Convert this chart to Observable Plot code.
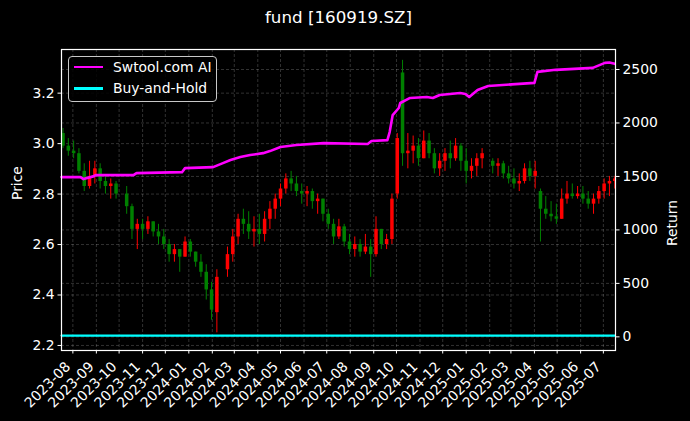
<!DOCTYPE html>
<html>
<head>
<meta charset="utf-8">
<script src="https://cdn.jsdelivr.net/npm/d3@7"></script>
<script src="https://cdn.jsdelivr.net/npm/@observablehq/plot@0.6"></script>
<style>
html,body{margin:0;padding:0;background:#000;}
body{width:690px;height:421px;position:relative;overflow:hidden;font-family:"DejaVu Sans",sans-serif;color:#fff;}
#title{position:absolute;left:0;top:7px;width:677px;text-align:center;font-size:16.7px;line-height:20px;white-space:nowrap;}
#chart{position:absolute;left:0;top:0;}
#legend{position:absolute;left:68px;top:56px;width:149px;height:46px;box-sizing:border-box;border:1px solid #c8c8c8;border-radius:4px;background:rgba(0,0,0,0.85);font-size:13.9px;}
#legend .sw{position:absolute;left:5px;width:29px;height:2.6px;}
#legend .tx{position:absolute;left:44px;line-height:16px;white-space:nowrap;}
</style>
</head>
<body>
<div id="chart"></div>
<div id="title">fund [160919.SZ]</div>
<div id="legend">
  <div class="sw" style="top:8.5px;background:#ff00ff"></div><div class="tx" style="top:1.5px">Swtool.com AI</div>
  <div class="sw" style="top:30px;background:#00ffff"></div><div class="tx" style="top:23px">Buy-and-Hold</div>
</div>
<script>
// ---- weekly candles (week starting Monday) ----
const weekStart = [
  "2023-07-17","2023-07-24","2023-07-31","2023-08-07","2023-08-14","2023-08-21","2023-08-28","2023-09-04","2023-09-11","2023-09-18",
  "2023-09-25","2023-10-09","2023-10-16","2023-10-23","2023-10-30","2023-11-06","2023-11-13","2023-11-20","2023-11-27","2023-12-04",
  "2023-12-11","2023-12-18","2023-12-25","2024-01-01","2024-01-08","2024-01-15","2024-01-22","2024-01-29","2024-02-05","2024-02-19",
  "2024-02-26","2024-03-04","2024-03-11","2024-03-18","2024-03-25","2024-04-01","2024-04-08","2024-04-15","2024-04-22","2024-04-29",
  "2024-05-06","2024-05-13","2024-05-20","2024-05-27","2024-06-03","2024-06-10","2024-06-17","2024-06-24","2024-07-01","2024-07-08",
  "2024-07-15","2024-07-22","2024-07-29","2024-08-05","2024-08-12","2024-08-19","2024-08-26","2024-09-02","2024-09-09","2024-09-16",
  "2024-09-23","2024-09-30","2024-10-07","2024-10-14","2024-10-21","2024-10-28","2024-11-04","2024-11-11","2024-11-18","2024-11-25",
  "2024-12-02","2024-12-09","2024-12-16","2024-12-23","2024-12-30","2025-01-06","2025-01-13","2025-01-20","2025-02-03","2025-02-10",
  "2025-02-17","2025-02-24","2025-03-03","2025-03-10","2025-03-17","2025-03-24","2025-03-31","2025-04-07","2025-04-14","2025-04-21",
  "2025-04-28","2025-05-05","2025-05-12","2025-05-19","2025-05-26","2025-06-02","2025-06-09","2025-06-16","2025-06-23","2025-06-30",
  "2025-07-07","2025-07-14"
];
const openP = [
  3.04,2.99,2.97,2.96,2.89,2.83,2.87,2.90,2.85,2.83,
  2.84,2.80,2.75,2.66,2.68,2.66,2.69,2.65,2.63,2.60,
  2.56,2.58,2.55,2.61,2.57,2.53,2.49,2.42,2.33,2.50,
  2.56,2.63,2.70,2.68,2.65,2.66,2.64,2.70,2.74,2.78,
  2.82,2.86,2.84,2.81,2.80,2.81,2.77,2.78,2.72,2.68,
  2.63,2.67,2.61,2.58,2.60,2.57,2.59,2.56,2.66,2.60,
  2.62,2.80,3.28,2.96,2.97,2.99,2.94,3.01,2.96,2.90,
  2.93,2.96,2.94,2.99,2.93,2.89,2.91,2.94,2.93,2.91,
  2.92,2.88,2.86,2.84,2.85,2.90,2.87,2.81,2.74,2.72,
  2.71,2.70,2.78,2.80,2.79,2.80,2.78,2.76,2.78,2.81,
  2.84,2.85
];
const highP = [
  3.06,3.02,3.01,2.98,2.92,2.93,2.93,2.92,2.87,2.86,
  2.85,2.83,2.76,2.70,2.70,2.71,2.69,2.68,2.66,2.62,
  2.60,2.58,2.63,2.62,2.57,2.56,2.52,2.45,2.50,2.59,
  2.66,2.72,2.74,2.73,2.71,2.72,2.73,2.77,2.80,2.84,
  2.88,2.89,2.87,2.84,2.83,2.82,2.80,2.78,2.74,2.70,
  2.70,2.68,2.64,2.63,2.62,2.64,2.62,2.71,2.66,2.64,
  2.80,3.04,3.33,3.04,3.03,3.02,3.05,3.04,2.98,2.96,
  2.98,3.01,3.02,3.00,2.98,2.94,2.96,2.98,2.94,2.94,
  2.93,2.91,2.90,2.88,2.92,2.93,2.93,2.82,2.79,2.77,
  2.76,2.82,2.85,2.84,2.83,2.83,2.81,2.80,2.83,2.86,
  2.87,2.87
];
const lowP = [
  2.98,2.95,2.94,2.88,2.81,2.82,2.84,2.82,2.80,2.78,
  2.78,2.72,2.62,2.58,2.62,2.64,2.63,2.60,2.58,2.53,
  2.53,2.49,2.55,2.55,2.51,2.47,2.38,2.30,2.25,2.47,
  2.53,2.60,2.64,2.62,2.59,2.60,2.61,2.66,2.70,2.75,
  2.80,2.81,2.79,2.76,2.75,2.74,2.72,2.69,2.66,2.60,
  2.62,2.59,2.56,2.55,2.55,2.56,2.47,2.55,2.58,2.58,
  2.60,2.78,2.91,2.90,2.92,2.91,2.94,2.94,2.88,2.87,
  2.89,2.90,2.93,2.89,2.84,2.86,2.87,2.90,2.88,2.87,
  2.86,2.84,2.82,2.81,2.84,2.85,2.82,2.61,2.70,2.69,
  2.68,2.70,2.76,2.78,2.78,2.76,2.74,2.72,2.76,2.78,
  2.79,2.82
];
const closeP = [
  2.99,2.97,2.96,2.89,2.83,2.87,2.90,2.85,2.83,2.84,
  2.80,2.75,2.66,2.68,2.66,2.69,2.65,2.63,2.60,2.56,
  2.58,2.55,2.61,2.57,2.53,2.49,2.42,2.34,2.47,2.56,
  2.63,2.70,2.68,2.65,2.66,2.64,2.70,2.74,2.78,2.82,
  2.86,2.84,2.81,2.80,2.81,2.77,2.78,2.72,2.68,2.63,
  2.67,2.61,2.58,2.60,2.57,2.59,2.56,2.66,2.60,2.62,
  2.78,3.02,2.96,2.97,2.99,2.94,3.01,2.96,2.90,2.93,
  2.96,2.94,2.99,2.93,2.89,2.91,2.94,2.96,2.91,2.92,
  2.88,2.86,2.84,2.85,2.90,2.87,2.89,2.74,2.72,2.71,
  2.70,2.78,2.80,2.79,2.80,2.78,2.76,2.78,2.81,2.84,
  2.85,2.86
];

// ---- strategy return (right axis) ----
const stratDates = [
  "2023-07-17","2023-08-11","2023-08-15","2023-08-29","2023-08-31","2023-10-20","2023-10-24","2023-12-23","2023-12-27","2024-02-02",
  "2024-02-15","2024-02-25","2024-03-09","2024-03-22","2024-04-08","2024-04-17","2024-05-01","2024-05-22","2024-06-27","2024-08-24",
  "2024-08-29","2024-09-19","2024-09-22","2024-09-26","2024-10-04","2024-10-06","2024-10-19","2024-11-10","2024-11-18","2024-11-27",
  "2024-12-24","2024-12-31","2025-01-05","2025-01-16","2025-01-30","2025-04-01","2025-04-05","2025-04-29","2025-06-17","2025-07-03",
  "2025-07-09","2025-07-16"
];
const stratReturn = [
  1494,1494,1475,1503,1512,1512,1531,1540,1578,1587,
  1625,1653,1681,1700,1718,1737,1775,1794,1812,1803,
  1831,1840,1915,2074,2140,2187,2234,2243,2234,2262,
  2280,2271,2243,2308,2346,2375,2478,2497,2515,2562,
  2565,2553
];
// ---- buy-and-hold return (right axis) ----
const bhDates = ["2023-07-17","2024-07-16","2025-07-16"];
const bhReturn = [12,12,12];

// ---- axis ticks ----
const monthTicks = ["2023-08","2023-09","2023-10","2023-11","2023-12","2024-01","2024-02","2024-03","2024-04","2024-05","2024-06","2024-07",
  "2024-08","2024-09","2024-10","2024-11","2024-12","2025-01","2025-02","2025-03","2025-04","2025-05","2025-06","2025-07"];
const priceTicks = [2.2,2.4,2.6,2.8,3.0,3.2];
const returnTicks = [0,500,1000,1500,2000,2500];

// ---- build ----
const parse = d3.utcParse("%Y-%m-%d");
const DAY = 864e5;
const candles = weekStart.map((w,i)=>({date:new Date(+parse(w)+2*DAY), open:openP[i], high:highP[i], low:lowP[i], close:closeP[i]}));
const mDate = m => parse(m+"-01");
const mt = monthTicks.map(mDate);
// right axis mapping: return -> price units
const P0 = 2.2341, K = (3.2937-2.2341)/2500;
const toP = r => P0 + r*K;
const fromP = p => Math.round((p-P0)/K);
const strat = stratDates.map((d,i)=>({date:parse(d), v:toP(stratReturn[i])}));
const bh = bhDates.map((d,i)=>({date:parse(d), v:toP(bhReturn[i])}));
const col = d => d.close >= d.open ? "#ff0000" : "#008000";
const gridStyle = {stroke:"#ffffff", strokeOpacity:0.28, strokeDasharray:"3,2", strokeWidth:0.7};

const chart = Plot.plot({
  width:690, height:421,
  marginTop:49, marginBottom:71, marginLeft:61, marginRight:75,
  style:{background:"#000", color:"#fff", fontFamily:"DejaVu Sans, sans-serif", fontSize:"13.9px"},
  x:{type:"utc", domain:[new Date("2023-07-17T00:00Z"), new Date("2025-07-17T00:00Z")]},
  y:{domain:[2.180, 3.373]},
  marks:[
    Plot.gridX(mt, gridStyle),
    Plot.gridY(priceTicks, gridStyle),
    Plot.gridY(returnTicks.map(toP), gridStyle),
    Plot.ruleX(candles, {x:"date", y1:"low", y2:"high", stroke:col, strokeWidth:1, clip:true}),
    Plot.ruleX(candles, {x:"date", y1:"open", y2:"close", stroke:col, strokeWidth:3.5, clip:true}),
    Plot.line(strat, {x:"date", y:"v", stroke:"#ff00ff", strokeWidth:2.6}),
    Plot.line(bh, {x:"date", y:"v", stroke:"#00ffff", strokeWidth:2.2}),
    Plot.frame({stroke:"#fff", strokeWidth:1.2}),
    Plot.axisX(mt, {tickFormat:()=>"", tickSize:3.5, label:null, stroke:"#fff"}),
    Plot.text(monthTicks, {x:mDate, text:d=>d, frameAnchor:"bottom", rotate:-45, textAnchor:"end", lineAnchor:"bottom", dx:-1.5, dy:17, fill:"#fff", fontSize:13.9}),
    Plot.axisY(priceTicks, {anchor:"left", tickFormat:d=>d.toFixed(1), tickSize:3.5, tickPadding:3.5, label:null, stroke:"#fff", fill:"#fff"}),
    Plot.axisY(returnTicks.map(toP), {anchor:"right", tickFormat:d=>String(fromP(d)), tickSize:3.5, tickPadding:3.5, label:null, stroke:"#fff", fill:"#fff"}),
    Plot.text(["Price"], {frameAnchor:"left", dx:-44, rotate:-90, fill:"#fff", fontSize:13.9}),
    Plot.text(["Return"], {frameAnchor:"right", dx:57.5, rotate:-90, fill:"#fff", fontSize:13.9})
  ]
});
document.getElementById("chart").appendChild(chart);
</script>
</body>
</html>
